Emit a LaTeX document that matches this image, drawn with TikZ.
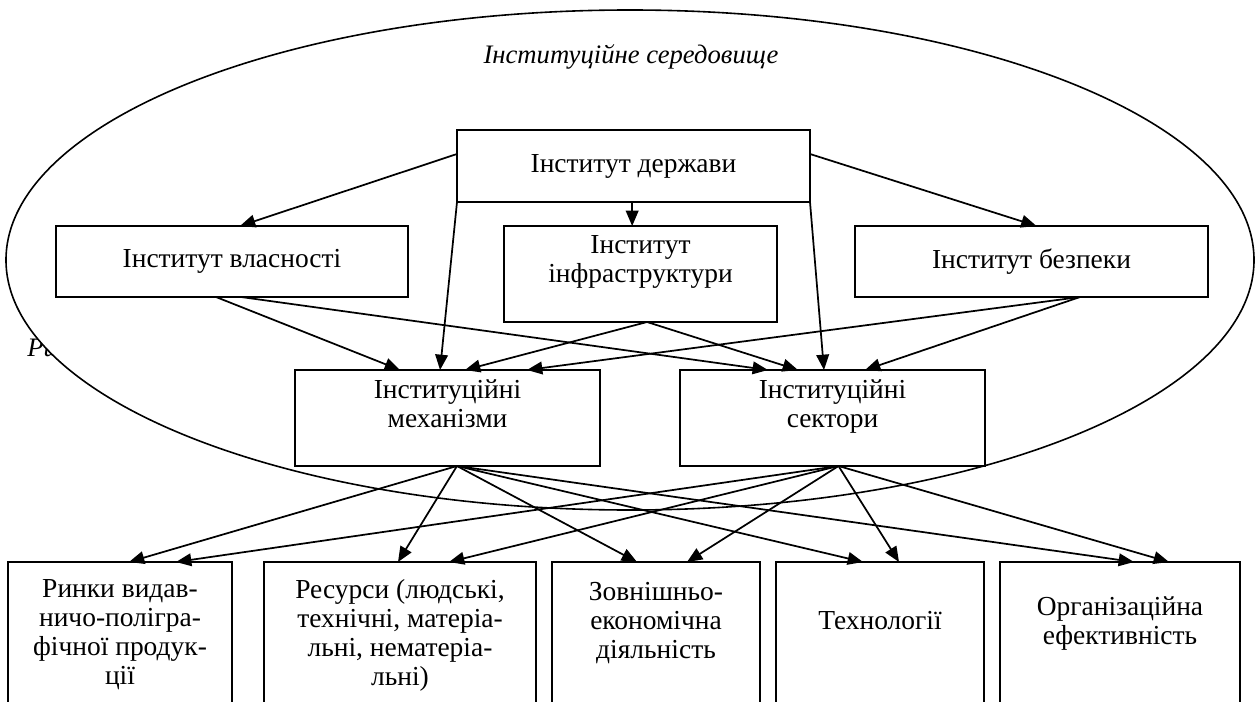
\documentclass[tikz,border=0pt]{standalone}
\usepackage{fontspec}
\setmainfont{Liberation Serif}
\usetikzlibrary{arrows.meta}
\tikzset{
    inst-box/.style = {draw, line width=1.5pt, rectangle, inner sep=0pt, outer sep=0pt, align=center, font=\fontsize{20.6pt}{21.75pt}\selectfont},
    inst-title/.style = {inner sep=0pt, font=\itshape\fontsize{20pt}{21.75pt}\selectfont},
    inst-arrow/.style = {line width=1.3pt, -{Triangle[length=11.5pt, width=9.5pt]}},
}

\begin{document}
\begin{tikzpicture}[x=0.75pt, y=-0.75pt]
\useasboundingbox (0,0) rectangle (1255,702);
\node [inst-title, anchor=base west] (ris) at (27,356) {Ри};
\draw [line width=1.2pt, fill=white] (630,260) ellipse [x radius=468pt, y radius=187.5pt];
\node [inst-title] (seredovyshche) at (631,57) {Інституційне середовище};

\node [inst-box, minimum width=264.75pt, minimum height=54pt] (derzhava) at (633.5,166) {Інститут держави};
\node [inst-box, minimum width=264pt, minimum height=53.25pt] (vlasnist) at (232,261.5) {Інститут власності};
\node [inst-box, minimum width=204.75pt, minimum height=72pt] (infra) at (640.5,274) {Інститут\\інфраструктури\\\mbox{}};
\node [inst-box, minimum width=264.75pt, minimum height=53.25pt] (bezpeka) at (1031.5,261.5) {Інститут безпеки};
\node [inst-box, minimum width=228.75pt, minimum height=72pt] (mekhanizmy) at (447.5,418) {Інституційні\\механізми\\\mbox{}};
\node [inst-box, minimum width=228.75pt, minimum height=72pt] (sektory) at (832.5,418) {Інституційні\\сектори\\\mbox{}};

\node [inst-box, minimum width=168pt, minimum height=109.5pt] (rynky) at (120,635) {Ринки видав-\\ничо-полігра-\\фічної продук-\\ції};
\node [inst-box, minimum width=204pt, minimum height=109.5pt] (resursy) at (400,635) {Ресурси (людські,\\технічні, матеріа-\\льні, нематеріа-\\льні)};
\node [inst-box, minimum width=156pt, minimum height=109.5pt] (zed) at (656,635) {Зовнішньо-\\економічна\\діяльність\\\mbox{}};
\node [inst-box, minimum width=156pt, minimum height=109.5pt] (tekhnolohii) at (880,635) {Технології\\\mbox{}};
\node [inst-box, minimum width=180pt, minimum height=109.5pt] (efektyvnist) at (1120,635) {Організаційна\\ефективність\\\mbox{}};

\draw [inst-arrow] ([yshift=9pt]derzhava.west) -- ([xshift=6pt]vlasnist.north);
\draw [inst-arrow] ([xshift=-1pt]derzhava.south) -- ([xshift=-1pt]derzhava.south |- infra.north);
\draw [inst-arrow] ([yshift=9pt]derzhava.east) -- ([xshift=3.75pt]bezpeka.north);
\draw [inst-arrow] (derzhava.south west) -- ([xshift=-5.6pt]mekhanizmy.north);
\draw [inst-arrow] (derzhava.south east) -- ([xshift=-6.4pt]sektory.north);

\draw [inst-arrow] ([xshift=-12pt]vlasnist.south) -- ([xshift=-35.6pt]mekhanizmy.north);
\draw [inst-arrow] ([xshift=6.75pt]vlasnist.south) -- ([xshift=-48.4pt]sektory.north);
\draw [inst-arrow] ([xshift=4.9pt]infra.south) -- ([xshift=13.1pt]mekhanizmy.north);
\draw [inst-arrow] ([xshift=4.9pt]infra.south) -- ([xshift=-25.9pt]sektory.north);
\draw [inst-arrow] ([xshift=36.4pt]bezpeka.south) -- ([xshift=59.6pt]mekhanizmy.north);
\draw [inst-arrow] ([xshift=36.4pt]bezpeka.south) -- ([xshift=24.4pt]sektory.north);

\draw [inst-arrow] ([xshift=7.1pt]mekhanizmy.south) -- ([xshift=6.75pt]rynky.north);
\draw [inst-arrow] ([xshift=7.1pt]mekhanizmy.south) -- ([xshift=-1.5pt]resursy.north);
\draw [inst-arrow] ([xshift=7.1pt]mekhanizmy.south) -- ([xshift=-14.25pt]zed.north);
\draw [inst-arrow] ([xshift=7.1pt]mekhanizmy.south) -- ([xshift=-12.75pt]tekhnolohii.north);
\draw [inst-arrow] ([xshift=7.1pt]mekhanizmy.south) -- ([xshift=10.5pt]efektyvnist.north);

\draw [inst-arrow] ([xshift=4.5pt]sektory.south) -- ([xshift=42pt]rynky.north);
\draw [inst-arrow] ([xshift=4.5pt]sektory.south) -- ([xshift=36.75pt]resursy.north);
\draw [inst-arrow] ([xshift=4.5pt]sektory.south) -- ([xshift=23.25pt]zed.north);
\draw [inst-arrow] ([xshift=4.5pt]sektory.south) -- ([xshift=14.25pt]tekhnolohii.north);
\draw [inst-arrow] ([xshift=4.5pt]sektory.south) -- ([xshift=36.75pt]efektyvnist.north);
\end{tikzpicture}
\end{document}
